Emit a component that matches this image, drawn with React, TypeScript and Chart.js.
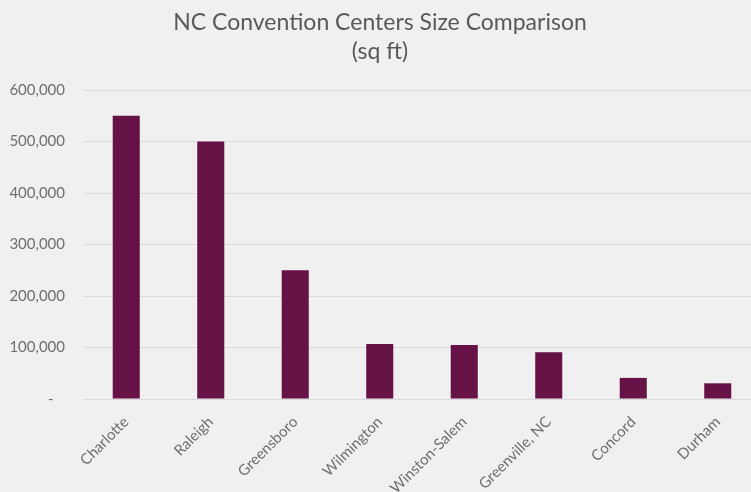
import React, { useEffect, useRef } from "react";
import { Chart, registerables } from "chart.js";

Chart.register(...registerables);

const categories = [
  "Charlotte",
  "Raleigh",
  "Greensboro",
  "Wilmington",
  "Winston-Salem",
  "Greenville, NC",
  "Concord",
  "Durham",
];
const sizes = [550000, 500000, 250000, 107000, 105000, 91000, 41000, 30500];
const titleLines = ["NC Convention Centers Size Comparison", "(sq ft)"];
const yMax = 600000;
const yStep = 100000;

const FONT = "Lato, 'Open Sans', sans-serif";
const TITLE_COLOR = "#595959";
const TICK_COLOR = "#6f6f6f";

export default function App() {
  const ref = useRef<HTMLCanvasElement | null>(null);

  useEffect(() => {
    if (!ref.current) return;
    const chart = new Chart(ref.current, {
      type: "bar",
      data: {
        labels: categories,
        datasets: [
          {
            data: sizes,
            backgroundColor: "#661247",
            borderColor: "#661247",
            borderWidth: 0,
            categoryPercentage: 1,
            barPercentage: 0.32,
          },
        ],
      },
      options: {
        responsive: false,
        animation: false,
        layout: { padding: { left: 0, right: 14, top: 0, bottom: 0 } },
        plugins: {
          legend: { display: false },
          tooltip: { enabled: false },
          title: {
            display: true,
            text: titleLines,
            color: TITLE_COLOR,
            font: { family: FONT, size: 23, weight: "normal", lineHeight: 1.22 },
            padding: { top: 9, bottom: 25 },
          },
        },
        scales: {
          x: {
            grid: { display: false, drawTicks: false },
            border: { display: true, color: "#d9d9d9", width: 1 },
            ticks: {
              color: TICK_COLOR,
              font: { family: FONT, size: 15 },
              maxRotation: 45,
              minRotation: 45,
              padding: 14,
              autoSkip: false,
            },
            afterFit: (s: any) => {
              s.height = 93;
            },
          },
          y: {
            min: 0,
            max: yMax,
            grid: { color: "#d9d9d9", drawTicks: false, lineWidth: 1 },
            border: { display: false },
            ticks: {
              stepSize: yStep,
              color: TICK_COLOR,
              font: { family: FONT, size: 15 },
              padding: 19,
              callback: (v: any) =>
                Number(v) === 0 ? "-   " : Number(v).toLocaleString("en-US"),
            },
            afterFit: (s: any) => {
              s.width = 84;
            },
          },
        },
      },
    });
    return () => chart.destroy();
  }, []);

  return (
    <div
      style={{
        position: "fixed",
        left: 0,
        top: 0,
        width: 751,
        height: 492,
        overflow: "hidden",
        background: "#f0f0f0",
      }}
    >
      <canvas ref={ref} width={774} height={492} style={{ display: "block" }} />
    </div>
  );
}
